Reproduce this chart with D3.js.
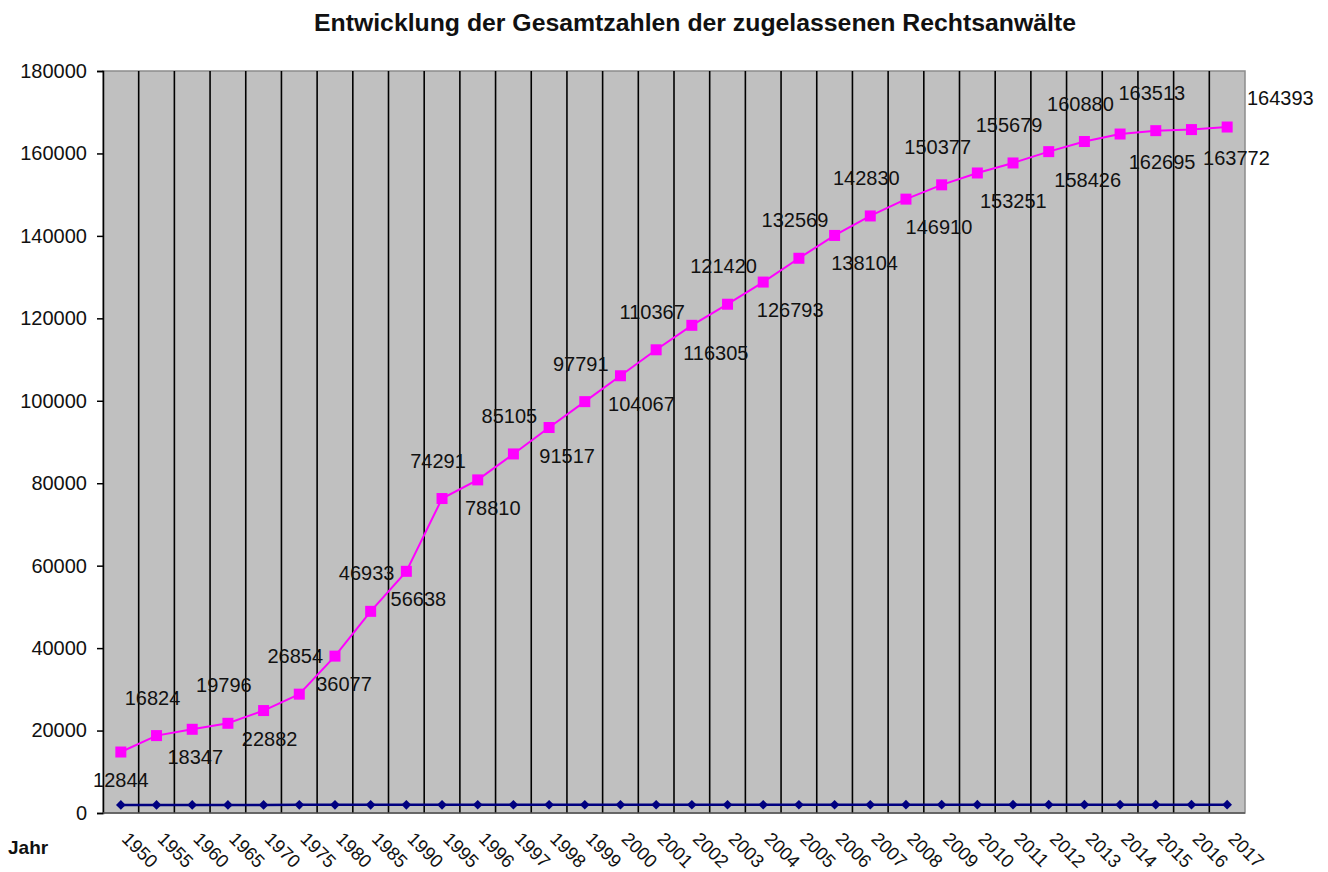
<!DOCTYPE html>
<html>
<head>
<meta charset="utf-8">
<script src="https://cdn.jsdelivr.net/npm/d3@7"></script>
<style>
  body { margin: 0; background: #fff; }
  text { font-family: Arial, "Liberation Sans", sans-serif; fill: #111; }
</style>
</head>
<body>
<svg id="chart" width="1328" height="872"></svg>
<script>
// the "Jahr" row was charted as a series too, so the counts sit stacked on top of the years
const years = [1950, 1955, 1960, 1965, 1970, 1975, 1980, 1985, 1990, 1995, 1996, 1997, 1998, 1999, 2000,
  2001, 2002, 2003, 2004, 2005, 2006, 2007, 2008, 2009, 2010, 2011, 2012, 2013, 2014, 2015, 2016, 2017];
const counts = [12844, 16824, 18347, 19796, 22882, 26854, 36077, 46933, 56638, 74291, 78810, 85105, 91517, 97791, 104067,
  110367, 116305, 121420, 126793, 132569, 138104, 142830, 146910, 150377, 153251, 155679, 158426, 160880, 162695, 163513, 163772, 164393];
const yTicks = [0, 20000, 40000, 60000, 80000, 100000, 120000, 140000, 160000, 180000];

const svg = d3.select('#chart');
const plot = { left: 103, right: 1245, top: 71, bottom: 813 };

const x = d3.scaleBand()
  .domain(years)
  .range([plot.left, plot.right])
  .padding(0);
const cx = d => x(d) + x.bandwidth() / 2;

const y = d3.scaleLinear()
  .domain([0, 180000])
  .range([plot.bottom, plot.top]);

const rows = years.map((yr, i) => ({ yr, i, base: yr, total: yr + counts[i], count: counts[i] }));

// title
svg.append('text')
  .attr('x', 695).attr('y', 31)
  .attr('text-anchor', 'middle')
  .style('font-size', '24.8px')
  .style('font-weight', 'bold')
  .text('Entwicklung der Gesamtzahlen der zugelassenen Rechtsanwälte');

// plot background
svg.append('rect')
  .attr('x', plot.left).attr('y', plot.top)
  .attr('width', plot.right - plot.left).attr('height', plot.bottom - plot.top)
  .attr('fill', '#c0c0c0')
  .attr('stroke', '#8c8c8c')
  .attr('stroke-width', 1.5);

// vertical category separators
svg.append('g')
  .selectAll('line')
  .data(years.slice(1))
  .join('line')
    .attr('x1', d => x(d)).attr('x2', d => x(d))
    .attr('y1', plot.top).attr('y2', plot.bottom)
    .attr('stroke', '#000')
    .attr('stroke-width', 1.6);

// y axis
const yAxis = svg.append('g')
  .attr('transform', `translate(${plot.left},0)`)
  .call(d3.axisLeft(y).tickValues(yTicks).tickSize(6).tickPadding(10).tickFormat(d3.format('d')));
yAxis.select('.domain').attr('stroke', '#000').attr('stroke-width', 1.5);
yAxis.selectAll('.tick line').attr('stroke', '#000').attr('stroke-width', 1.5);
yAxis.selectAll('.tick text')
  .style('font-size', '20px')
  .style('font-family', 'Arial, "Liberation Sans", sans-serif')
  .attr('fill', '#111');

// bottom axis line
svg.append('line')
  .attr('x1', plot.left).attr('x2', plot.right)
  .attr('y1', plot.bottom).attr('y2', plot.bottom)
  .attr('stroke', '#555').attr('stroke-width', 1.5);

// x tick labels, rotated
svg.append('g')
  .selectAll('text')
  .data(years)
  .join('text')
    .attr('transform', d => `translate(${cx(d)},${plot.bottom + 27}) rotate(45)`)
    .style('font-size', '18.5px')
    .text(d => d);

svg.append('text')
  .attr('x', 8).attr('y', 854)
  .style('font-size', '19px')
  .style('font-weight', 'bold')
  .text('Jahr');

// year series (navy, diamonds)
const line = key => d3.line().x(d => cx(d.yr)).y(d => y(d[key]));

svg.append('path')
  .datum(rows)
  .attr('d', line('base'))
  .attr('fill', 'none')
  .attr('stroke', '#000080')
  .attr('stroke-width', 2.5);

svg.append('g')
  .selectAll('path')
  .data(rows)
  .join('path')
    .attr('d', d3.symbol(d3.symbolDiamond2, 60))
    .attr('transform', d => `translate(${cx(d.yr)},${y(d.base)})`)
    .attr('fill', '#000080');

// lawyers series (magenta, squares), stacked on top
svg.append('path')
  .datum(rows)
  .attr('d', line('total'))
  .attr('fill', 'none')
  .attr('stroke', '#ff00ff')
  .attr('stroke-width', 2);

svg.append('g')
  .selectAll('rect')
  .data(rows)
  .join('rect')
    .attr('x', d => cx(d.yr) - 5.5)
    .attr('y', d => y(d.total) - 5.5)
    .attr('width', 11).attr('height', 11)
    .attr('fill', '#ff00ff');

// data labels: alternating below / above, the last one pushed outside the plot
const last = rows.length - 1;
svg.append('g')
  .selectAll('text')
  .data(rows)
  .join('text')
    .attr('x', d => {
      if (d.i === last) return plot.right + 2;
      return d.i % 2 === 0 ? cx(d.yr) + 1.5 * d.i : cx(d.yr) - 4;
    })
    .attr('y', d => {
      if (d.i === last) return y(d.total) - 22;
      return d.i % 2 === 0 ? y(d.total) + 35 : y(d.total) - 31;
    })
    .attr('text-anchor', d => d.i === last ? 'start' : 'middle')
    .style('font-size', '20px')
    .text(d => d.count);
</script>
</body>
</html>
